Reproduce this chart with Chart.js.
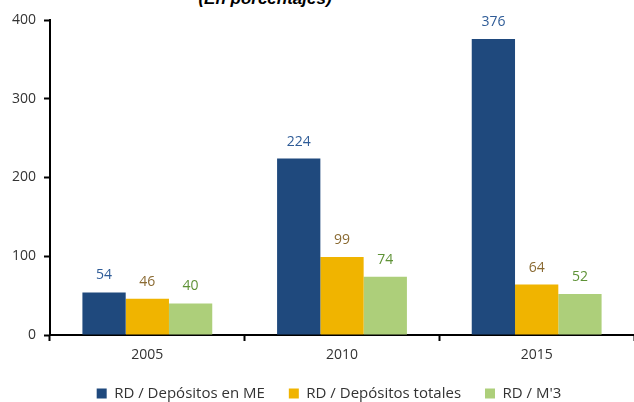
<!DOCTYPE html>
<html lang="es">
<head>
<meta charset="UTF-8">
<title>RD / Depósitos</title>
<style>
  body { margin: 0; background: #fff; }
  .wrap { position: relative; width: 634px; height: 402px; overflow: hidden; }
  .titulo { position: absolute; left: 0; width: 530px; top: -11px; text-align: center;
            font: italic bold 17px "Liberation Sans", Arial, sans-serif; color: #000; }
  canvas { position: absolute; left: 0; top: 0; }
</style>
</head>
<body>
<div class="wrap">
  <div class="titulo">(En porcentajes)</div>
  <canvas id="grafico" width="634" height="411"></canvas>
</div>
<script src="https://cdn.jsdelivr.net/npm/chart.js"></script>
<script>
  // datos
  const anios = ['2005', '2010', '2015'];
  const depositosME = [54, 224, 376];
  const depositosTotales = [46, 99, 64];
  const rdM3 = [40, 74, 52];
  const yTicks = [0, 100, 200, 300, 400];

  const fuente = '"Open Sans", "Liberation Sans", sans-serif';

  // etiquetas encima de cada barra
  const etiquetas = {
    id: 'etiquetas',
    afterLayout(chart) {
      // leyenda un poco a la derecha, como en el original
      if (chart.legend) chart.legend.left += 24;
    },
    afterDatasetsDraw(chart) {
      const ctx = chart.ctx;
      ctx.save();
      ctx.font = '14px ' + fuente;
      ctx.textAlign = 'center';
      ctx.textBaseline = 'middle';
      chart.data.datasets.forEach((ds, i) => {
        const meta = chart.getDatasetMeta(i);
        ctx.fillStyle = ds.labelColor;
        meta.data.forEach((bar, j) => {
          ctx.fillText(ds.data[j], bar.x, bar.y - 17);
        });
      });
      ctx.restore();
    }
  };

  new Chart(document.getElementById('grafico'), {
    type: 'bar',
    data: {
      labels: anios,
      datasets: [
        { label: 'RD / Depósitos en ME', data: depositosME, backgroundColor: '#1F497D', labelColor: '#2F5C97' },
        { label: 'RD / Depósitos totales', data: depositosTotales, backgroundColor: '#F0B400', labelColor: '#8A6A32' },
        { label: "RD / M'3", data: rdM3, backgroundColor: '#ADCF7A', labelColor: '#5E9236' }
      ]
    },
    options: {
      responsive: false,
      animation: false,
      layout: { padding: { top: 20, right: 0, left: 0, bottom: 0 } },
      datasets: { bar: { categoryPercentage: 0.667, barPercentage: 1 } },
      plugins: {
        title: { display: false },
        tooltip: { enabled: false },
        legend: {
          position: 'bottom',
          labels: {
            boxWidth: 10, boxHeight: 10, padding: 24,
            color: '#333', font: { size: 15, family: fuente }
          }
        }
      },
      scales: {
        x: {
          afterFit: s => { s.height = 27; },
          grid: { offset: true, drawOnChartArea: false, drawTicks: true, tickLength: 6, tickColor: '#000', tickWidth: 2 },
          border: { color: '#000', width: 2 },
          ticks: { color: '#333', font: { size: 14, family: fuente }, padding: 6 }
        },
        y: {
          min: 0, max: 400,
          afterBuildTicks: s => { s.ticks = yTicks.map(v => ({ value: v })); },
          afterFit: s => { s.width = 50; },
          grid: { drawOnChartArea: false, drawTicks: true, tickLength: 6, tickColor: '#000', tickWidth: 2 },
          border: { color: '#000', width: 2 },
          ticks: { color: '#333', font: { size: 14, family: fuente }, padding: 8 }
        }
      }
    },
    plugins: [etiquetas]
  });
</script>
</body>
</html>
